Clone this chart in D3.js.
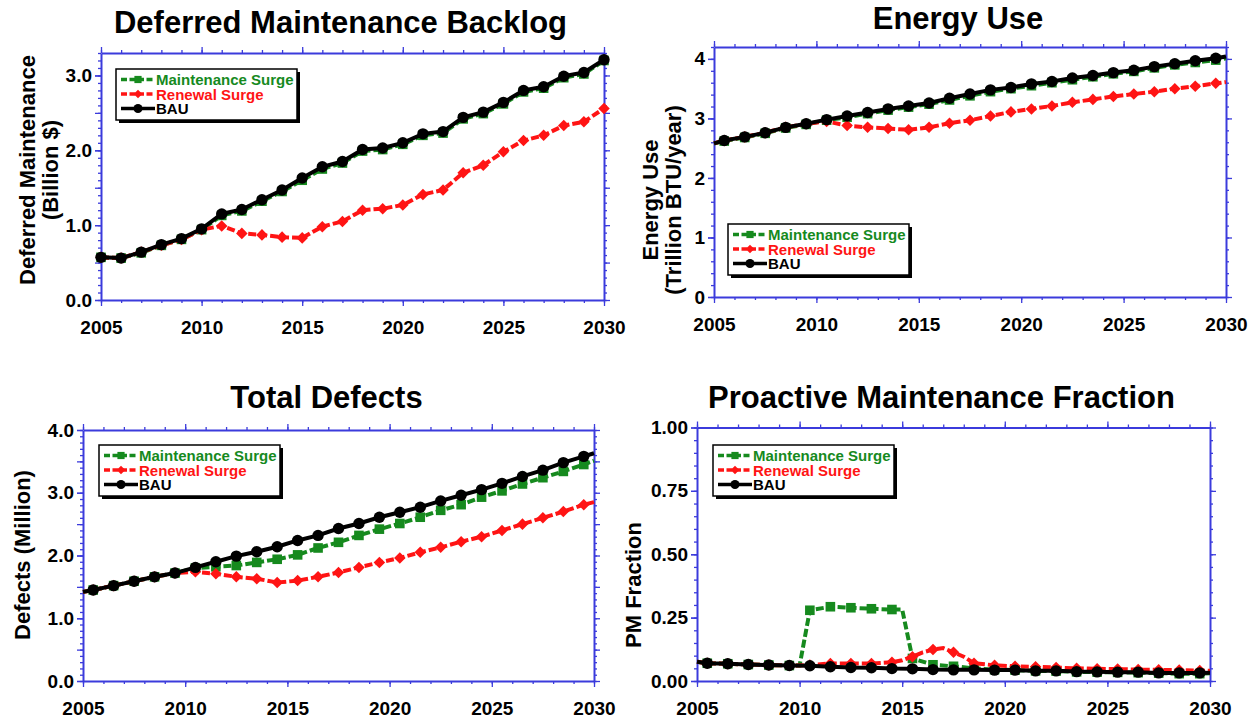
<!DOCTYPE html>
<html>
<head>
<meta charset="utf-8">
<script src="https://cdn.jsdelivr.net/npm/d3@7"></script>
<style>
  body { margin: 0; background: #fff; }
  text { font-family: "Liberation Sans", Arial, Helvetica, sans-serif; font-weight: bold; }
</style>
</head>
<body>
<svg id="chart" width="1257" height="723"></svg>
<script>
// Years where markers sit
const wholeYears = d3.range(2005, 2031);        // panel 1
const halfYears = d3.range(2005.5, 2030, 1);    // panels 2-4

const seriesNames = ["Maintenance Surge", "Renewal Surge", "BAU"];

// Deferred maintenance backlog (billion $), one value per whole year
const backlogMaint = [0.57,0.56,0.63,0.73,0.81,0.94,1.13,1.19,1.32,1.45,1.60,1.75,1.83,1.99,2.01,2.08,2.20,2.23,2.42,2.49,2.62,2.78,2.83,2.97,3.02,3.20];
const backlogRenewal = [0.57,0.56,0.64,0.73,0.81,0.94,0.99,0.89,0.87,0.84,0.83,0.98,1.05,1.20,1.22,1.27,1.41,1.47,1.70,1.80,1.98,2.13,2.20,2.33,2.38,2.56];
const backlogBAU = [0.57,0.56,0.64,0.74,0.82,0.95,1.15,1.21,1.34,1.47,1.63,1.78,1.85,2.01,2.03,2.10,2.22,2.25,2.44,2.51,2.64,2.80,2.85,2.99,3.04,3.21];

// Energy use (trillion BTU/year), values at half years + line ends
const energyMaint = [2.62,2.68,2.75,2.84,2.90,2.97,3.02,3.08,3.14,3.19,3.24,3.31,3.38,3.45,3.50,3.55,3.60,3.65,3.70,3.75,3.79,3.85,3.90,3.94,3.98];
const energyRenewal = [2.63,2.69,2.76,2.85,2.91,2.95,2.88,2.85,2.83,2.81,2.85,2.92,2.97,3.04,3.11,3.16,3.21,3.27,3.32,3.37,3.41,3.45,3.50,3.54,3.59];
const energyBAU = [2.63,2.69,2.76,2.85,2.91,2.98,3.04,3.10,3.16,3.21,3.26,3.34,3.41,3.48,3.52,3.58,3.62,3.68,3.72,3.77,3.81,3.87,3.92,3.97,4.01];
const energyEnds = [[2.58, 4.01], [2.58, 3.61], [2.58, 4.04]];

// Total defects (million)
const defectsMaint = [1.45,1.52,1.59,1.66,1.72,1.80,1.82,1.84,1.89,1.94,2.01,2.12,2.21,2.32,2.42,2.51,2.61,2.72,2.81,2.93,3.03,3.14,3.24,3.34,3.45];
const defectsRenewal = [1.45,1.52,1.59,1.66,1.72,1.74,1.71,1.66,1.63,1.57,1.60,1.66,1.73,1.81,1.89,1.96,2.05,2.13,2.22,2.30,2.40,2.50,2.60,2.70,2.81];
const defectsBAU = [1.45,1.52,1.59,1.66,1.72,1.81,1.90,1.99,2.06,2.14,2.24,2.32,2.43,2.51,2.61,2.69,2.77,2.87,2.96,3.05,3.15,3.26,3.36,3.48,3.58];
const defectsEnds = [[1.42, 3.51], [1.42, 2.85], [1.42, 3.63]];

// Proactive maintenance fraction
const pmMaint = [0.070,0.068,0.065,0.063,0.061,0.279,0.293,0.289,0.285,0.282,0.089,0.064,0.058,0.050,0.045,0.043,0.040,0.039,0.036,0.035,0.034,0.033,0.031,0.029,0.029];
const pmRenewal = [0.070,0.068,0.065,0.063,0.061,0.063,0.069,0.069,0.069,0.074,0.096,0.124,0.113,0.070,0.062,0.058,0.056,0.053,0.050,0.048,0.047,0.045,0.044,0.043,0.041];
const pmBAU = [0.070,0.068,0.065,0.063,0.061,0.060,0.056,0.053,0.052,0.049,0.048,0.045,0.044,0.044,0.043,0.043,0.040,0.040,0.037,0.036,0.035,0.035,0.032,0.032,0.032];
const pmEnds = [[0.076, 0.031], [0.076, 0.040], [0.076, 0.033]];
// line bends between markers (no marker drawn)
const pmMaintBends = [[2010.0, 0.061], [2015.0, 0.282]];
const pmRenewalBends = [[2015.0, 0.082], [2016.0, 0.113], [2017.0, 0.130], [2018.0, 0.096]];

const colors = ["#168a1e", "#ff1414", "#000000"];
const axisBlue = "#3b3bdc";

const svg = d3.select("#chart");

function buildPoints(years, vals, ends, bends) {
    let pts = years.map((yr, i) => ({x: yr, y: vals[i], mark: true}));
    if (ends) {
        pts.push({x: 2005, y: ends[0], mark: false});
        pts.push({x: 2030, y: ends[1], mark: false});
    }
    (bends || []).forEach(b => pts.push({x: b[0], y: b[1], mark: false}));
    return pts.sort((a, b) => a.x - b.x);
}

function marker(g, kind, cx, cy, s, color) {
    if (kind === 0) {
        g.append("rect").attr("x", cx - s).attr("y", cy - s)
            .attr("width", 2 * s).attr("height", 2 * s).attr("fill", color);
    } else if (kind === 1) {
        const d = s * 1.2;
        g.append("path")
            .attr("d", `M${cx},${cy - d}L${cx + d},${cy}L${cx},${cy + d}L${cx - d},${cy}Z`)
            .attr("fill", color);
    } else {
        g.append("circle").attr("cx", cx).attr("cy", cy).attr("r", s + 0.9).attr("fill", color);
    }
}

function drawPanel(p) {
    const x = d3.scaleLinear().domain([2005, 2030]).range([p.left, p.right]);
    const y = d3.scaleLinear().domain([0, p.ymax]).range([p.bottom, p.top]);
    const g = svg.append("g");

    // title
    g.append("text")
        .attr("x", (p.left + p.right) / 2 - 12)
        .attr("y", p.titleY)
        .attr("text-anchor", "middle")
        .style("font-size", "31px")
        .text(p.title);

    // y axis label
    p.ylabel.forEach((t, i) => {
        g.append("text")
            .attr("transform", `translate(${p.ylabelX[i]},${p.ylabelY}) rotate(-90)`)
            .attr("text-anchor", "middle")
            .attr("dy", "0.36em")
            .style("font-size", "22px")
            .text(t);
    });

    // axes: minor ticks, then major ticks with labels
    const xMinor = d3.range(2005, 2031);
    const xMajor = d3.range(2005, 2031, 5);
    const yMinor = d3.range(0, p.ymax + 1e-9, p.yMinorStep).map(v => +v.toFixed(3));
    const yMajor = d3.range(0, p.ymax + 1e-9, p.yMajorStep).map(v => +v.toFixed(3));

    const axes = [
        [d3.axisBottom(x), `translate(0,${p.bottom})`, xMinor, xMajor, true],
        [d3.axisTop(x), `translate(0,${p.top})`, xMinor, xMajor, false],
        [d3.axisLeft(y), `translate(${p.left},0)`, yMinor, yMajor, true],
        [d3.axisRight(y), `translate(${p.right},0)`, yMinor, yMajor, false]
    ];
    axes.forEach(([ax, tr, minor, major, labelled], k) => {
        g.append("g").attr("transform", tr)
            .call(ax.tickValues(minor).tickSize(3).tickSizeOuter(0).tickFormat(""))
            .call(s => s.select(".domain").remove())
            .selectAll("line").attr("stroke", axisBlue).attr("stroke-width", 1.3);
        const ax2 = ax.tickValues(major).tickSize(6).tickSizeOuter(0);
        if (labelled) {
            if (k === 0) ax2.tickFormat(d3.format("d")).tickPadding(15);
            else ax2.tickValues(p.yLabels).tickFormat(d3.format(p.yFormat)).tickPadding(3);
        } else {
            ax2.tickFormat("");
        }
        const ga = g.append("g").attr("transform", tr).call(ax2);
        ga.attr("font-family", null).attr("font-size", null);
        ga.select(".domain").attr("stroke", axisBlue).attr("stroke-width", 2);
        ga.selectAll("line").attr("stroke", axisBlue).attr("stroke-width", 1.3);
        ga.selectAll("text").attr("fill", "#000").style("font-size", "19px");
        if (labelled && k === 2) {
            // extra major ticks without labels on the left
            g.append("g").attr("transform", tr)
                .call(ax.tickValues(major).tickSize(6).tickFormat(""))
                .call(s => s.select(".domain").remove())
                .selectAll("line").attr("stroke", axisBlue).attr("stroke-width", 1.3);
        }
    });

    // series: green, red, then black on top
    const line = d3.line().x(d => x(d.x)).y(d => y(d.y));
    p.series.forEach((pts, i) => {
        g.append("path")
            .attr("d", line(pts))
            .attr("fill", "none")
            .attr("stroke", colors[i])
            .attr("stroke-width", 4)
            .attr("stroke-dasharray", i < 2 ? "8,3" : null);
        pts.filter(d => d.mark).forEach(d => marker(g, i, x(d.x), y(d.y), 4.8, colors[i]));
    });

    // legend
    const lg = g.append("g").attr("transform", `translate(${p.legend[0]},${p.legend[1]})`);
    const lw = 181, lh = 51;
    lg.append("rect").attr("x", 3).attr("y", 3).attr("width", lw).attr("height", lh).attr("fill", "#000");
    lg.append("rect").attr("width", lw).attr("height", lh).attr("fill", "#fff")
        .attr("stroke", "#000").attr("stroke-width", 1.5);
    seriesNames.forEach((name, i) => {
        const ry = 10.5 + i * 14.5;
        lg.append("line").attr("x1", 5).attr("x2", 39).attr("y1", ry).attr("y2", ry)
            .attr("stroke", colors[i]).attr("stroke-width", 3.5)
            .attr("stroke-dasharray", i < 2 ? "6,2.5" : null);
        marker(lg, i, 22, ry, 3.6, colors[i]);
        lg.append("text").attr("x", 40).attr("y", ry + 5.5)
            .attr("fill", colors[i]).style("font-size", "15px").text(name);
    });
}

drawPanel({
    title: "Deferred Maintenance Backlog", titleY: 33,
    left: 101, right: 604, top: 53, bottom: 300, ymax: 3.3,
    yMajorStep: 0.5, yMinorStep: 0.1, yLabels: [0, 1, 2, 3], yFormat: ".1f",
    ylabel: ["Deferred Maintenance", "(Billion $)"], ylabelX: [27, 50], ylabelY: 170,
    legend: [116, 69],
    series: [
        buildPoints(wholeYears, backlogMaint),
        buildPoints(wholeYears, backlogRenewal),
        buildPoints(wholeYears, backlogBAU)
    ]
});

drawPanel({
    title: "Energy Use", titleY: 29,
    left: 714, right: 1226, top: 47, bottom: 297, ymax: 4.2,
    yMajorStep: 1, yMinorStep: 0.2, yLabels: [0, 1, 2, 3, 4], yFormat: "d",
    ylabel: ["Energy Use", "(Trillion BTU/year)"], ylabelX: [650, 673], ylabelY: 200,
    legend: [728, 224],
    series: [
        buildPoints(halfYears, energyMaint, energyEnds[0]),
        buildPoints(halfYears, energyRenewal, energyEnds[1]),
        buildPoints(halfYears, energyBAU, energyEnds[2])
    ]
});

drawPanel({
    title: "Total Defects", titleY: 408,
    left: 83, right: 594, top: 430, bottom: 681, ymax: 4,
    yMajorStep: 0.5, yMinorStep: 0.1, yLabels: [0, 1, 2, 3, 4], yFormat: ".1f",
    ylabel: ["Defects (Million)"], ylabelX: [22], ylabelY: 555,
    legend: [99, 445],
    series: [
        buildPoints(halfYears, defectsMaint, defectsEnds[0]),
        buildPoints(halfYears, defectsRenewal, defectsEnds[1]),
        buildPoints(halfYears, defectsBAU, defectsEnds[2])
    ]
});

drawPanel({
    title: "Proactive Maintenance Fraction", titleY: 408,
    left: 697, right: 1210, top: 427.5, bottom: 681, ymax: 1,
    yMajorStep: 0.25, yMinorStep: 0.05, yLabels: [0, 0.25, 0.5, 0.75, 1], yFormat: ".2f",
    ylabel: ["PM Fraction"], ylabelX: [633], ylabelY: 585,
    legend: [713, 445],
    series: [
        buildPoints(halfYears, pmMaint, pmEnds[0], pmMaintBends),
        buildPoints(halfYears, pmRenewal, pmEnds[1], pmRenewalBends),
        buildPoints(halfYears, pmBAU, pmEnds[2])
    ]
});
</script>
</body>
</html>
